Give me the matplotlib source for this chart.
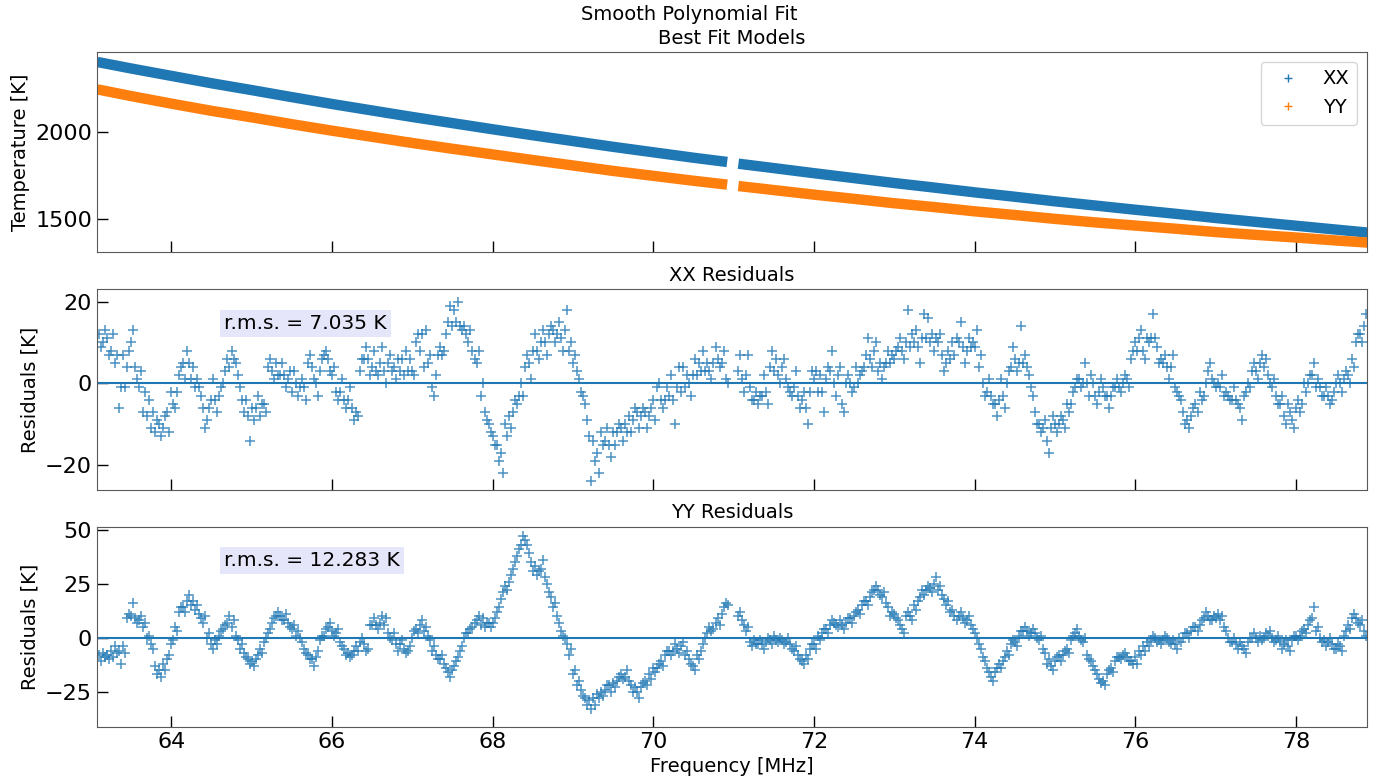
import numpy as np
import matplotlib
matplotlib.use('Agg')
import matplotlib.pyplot as plt
from matplotlib.lines import Line2D

# frequency grids [MHz], split around the flagged gap near 71 MHz
freq_lo = np.round(np.arange(63.10, 70.91, 0.05), 2)
freq_hi = np.round(np.arange(71.05, 78.86, 0.05), 2)
half_step = 0.025   # second reading per channel sits half a step later

# best fit models [K]
model_freq_lo = [63.08, 63.5, 64.0, 64.5, 65.0, 65.5, 66.0, 66.5, 67.0, 67.5,
                 68.0, 68.5, 69.0, 69.5, 70.0, 70.5, 70.92]
xx_model_lo = [2396, 2359, 2317, 2275, 2236, 2196, 2157, 2120, 2083, 2048,
               2013, 1979, 1946, 1913, 1882, 1851, 1827]
yy_model_lo = [2240, 2202, 2159, 2118, 2081, 2042, 2005, 1970, 1935, 1902,
               1870, 1838, 1807, 1776, 1748, 1720, 1698]
model_freq_hi = [71.06, 71.5, 72.0, 72.5, 73.0, 73.5, 74.0, 74.5, 75.0, 75.5,
                 76.0, 76.5, 77.0, 77.5, 78.0, 78.5, 78.89]
xx_model_hi = [1817, 1792, 1763, 1735, 1707, 1681, 1654, 1629, 1603, 1579,
               1555, 1532, 1508, 1486, 1464, 1442, 1425]
yy_model_hi = [1690, 1667, 1641, 1617, 1592, 1570, 1546, 1525, 1503, 1483,
               1465, 1447, 1428, 1412, 1397, 1380, 1368]

# XX residuals [K], two readings per channel (a, b)
xx_res_lo_a = [12, 10, 11, 8, 5, -6, 7, 4, 10, 4,
               -1, -7, -8, -11, -12, -10, -11, -7, -2, -6,
               2, 5, 8, 1, -1, -1, -6, -9, -4, -4,
               -3, 0, 6, 8, 5, -1, -7, -8, -6, -6,
               -8, -5, 4, 3, 5, 2, 2, 1, -2, 0,
               -1, -1, 5, 4, 0, 3, 7, 6, 2, -2,
               -2, -4, -4, -6, -7, 3, 6, 6, 4, 3,
               5, 3, 5, 3, 1, 3, 2, 3, 3, 10,
               8, 4, 5, -1, 2, 9, 8, 15, 14, 15,
               14, 14, 10, 8, 5, -3, -7, -10, -13, -15,
               -17, -10, -8, -7, -5, 0, 4, 5, 8, 8,
               10, 10, 12, 13, 12, 11, 13, 8, 5, 3,
               -2, -5, -13, -14, -17, -12, -14, -15, -12, -12,
               -11, -10, -8, -9, -7, -8, -7, -8, -4, -1,
               -4, -4, -3, -4, -1, -2, -1, 0, 2, 2,
               3, 3, 3, 5, 6, 5, 1]
xx_res_lo_b = [9, 13, 7, 12, 7, -1, -1, 8, 13, 1,
               3, -2, -4, -7, -9, -13, -8, -12, -5, -2,
               4, 1, 5, 4, 1, -3, -11, -6, 1, -7,
               -1, 3, 4, 6, 2, -4, -4, -14, -9, -3,
               -5, -7, 6, 1, 2, 5, -1, 3, 3, -3,
               1, -4, 7, 1, -3, 6, 8, 3, 4, -4,
               1, -6, -1, -9, -8, 6, 9, 2, 8, 2,
               9, 0, 7, 4, 6, 6, 8, 6, 2, 12,
               12, 13, 7, -3, 7, 7, 12, 19, 18, 20,
               13, 12, 13, 6, 8, 0, -9, -12, -15, -19,
               -22, -13, -11, -4, -3, -3, 7, 1, 12, 6,
               13, 7, 14, 10, 15, 8, 18, 10, 7, 1,
               -3, -9, -24, -19, -22, -15, -11, -18, -15, -10,
               -14, -12, -12, -6, -11, -6, -11, -6, -9, 0,
               -6, -1, 2, -10, 4, 4, 2, -3, 6, 5,
               8, 5, 1, 9, 4, 8, 0]
xx_res_hi_a = [3, 1, 2, -1, -4, -5, -3, -2, 4, 3,
               2, 4, 1, -2, -1, -3, -4, -6, -2, 1,
               -2, -2, 1, 3, 0, 2, -5, 0, 0, -1,
               0, 3, 7, 6, 8, 3, 1, 5, 5, 6,
               9, 8, 10, 9, 10, 9, 11, 11, 10, 8,
               10, 7, 5, 6, 7, 10, 9, 8, 9, 9,
               4, 0, -2, -3, -5, -4, -3, 0, 4, 6,
               5, 5, 4, -1, -7, -10, -11, -14, -11, -10,
               -10, -9, -5, -5, -1, 1, 0, 0, 2, -3,
               -2, -1, -3, -3, -1, -1, 0, 1, 6, 10,
               11, 8, 11, 11, 11, 5, 5, 4, 4, -1,
               -3, -7, -9, -8, -5, -2, -3, 3, 1, -1,
               -1, -3, -3, -4, -4, -6, -3, 0, 3, 3,
               5, 4, 2, -1, -3, -5, -8, -5, -9, -6,
               -7, 0, 0, 2, -1, -1, -3, -3, -4, 0,
               0, 1, 2, 6, 10, 12, 14]
xx_res_hi_b = [7, -2, 7, -4, -2, -3, 2, -5, 8, 6,
               0, 6, -1, -3, 3, -6, -2, -10, 3, 3,
               2, -7, 4, 8, -3, 4, -7, 2, -2, 4,
               2, 4, 11, 4, 10, 5, 4, 8, 7, 8,
               11, 6, 18, 12, 13, 5, 17, 16, 12, 11,
               12, 3, 8, 10, 11, 15, 5, 11, 10, 13,
               7, -3, 1, -5, -8, 1, -6, 3, 9, 3,
               14, 7, 2, -3, -10, -12, -9, -17, -8, -12,
               -8, -11, -7, -2, 1, -1, 5, -3, 0, -5,
               1, -3, -6, -1, 1, -2, 2, -1, 8, 8,
               13, 6, 10, 17, 9, 6, 7, 1, 7, -2,
               -4, -10, -11, -6, -7, -4, 0, 5, 0, 0,
               2, -2, -4, -1, -5, -9, -2, -1, 5, 1,
               7, 6, 0, 1, -5, -3, -10, -7, -11, -4,
               -5, -2, 2, 5, 1, -3, -1, -5, -2, 2,
               -2, 3, 0, 4, 12, 10, 17]

# YY residuals [K], two readings per channel (a, b)
yy_res_lo_a = [-8, -7, -8, -6, -4, -6, -4, 9, 10, 9,
               8, 5, 0, -3, -13, -15, -12, -10, -3, 5,
               12, 14, 17, 15, 13, 11, 7, 0, -3, -1,
               1, 4, 7, 5, 1, -5, -7, -10, -11, -10,
               -5, -2, 2, 7, 10, 10, 8, 7, 4, 1,
               0, -5, -8, -10, -9, -1, 1, 5, 3, 2,
               -2, -5, -7, -8, -4, -2, -3, -5, 6, 6,
               7, 6, 2, -1, -3, -3, -5, -6, 0, 4,
               6, 3, 1, -6, -8, -10, -12, -16, -15, -11,
               -6, 0, 2, 5, 8, 6, 5, 7, 7, 12,
               18, 24, 26, 32, 38, 43, 45, 39, 31, 29,
               32, 28, 21, 14, 10, 3, 0, -8, -17, -22,
               -24, -28, -29, -28, -26, -25, -24, -22, -21, -20,
               -17, -18, -20, -25, -25, -23, -20, -17, -14, -14,
               -11, -8, -6, -6, -5, -4, -8, -10, -13, -8,
               -6, 0, 5, 4, 9, 11, 16]
yy_res_lo_b = [-11, -9, -10, -9, -7, -12, -7, 11, 16, 7,
               10, 7, 1, -5, -17, -18, -15, -8, -1, 3,
               14, 12, 20, 17, 15, 9, 10, 2, -5, -3,
               3, 6, 10, 8, -1, -3, -9, -12, -13, -8,
               -7, 0, 4, 9, 12, 8, 11, 5, 6, 3,
               -2, -7, -10, -13, -6, 1, 4, 7, 1, 4,
               -4, -8, -9, -6, -6, 0, -6, 6, 9, 4,
               10, 9, 0, 2, -6, -1, -7, -4, 3, 2,
               8, 5, -1, -4, -10, -8, -14, -18, -13, -9,
               -4, 2, 4, 7, 10, 9, 7, 5, 9, 14,
               21, 22, 29, 35, 41, 47, 43, 35, 33, 31,
               36, 25, 19, 16, 7, 1, -3, -5, -15, -20,
               -27, -31, -33, -31, -28, -27, -22, -25, -23, -18,
               -19, -15, -22, -23, -28, -21, -22, -19, -16, -12,
               -13, -6, -8, -3, -7, -2, -6, -12, -15, -10,
               -3, 2, 3, 7, 6, 14, 15]
yy_res_hi_a = [10, 8, 3, -2, -1, -3, -3, -2, -1, 1,
               -2, -1, -2, -3, -6, -8, -11, -8, -5, -3,
               1, 2, 4, 6, 7, 5, 6, 7, 9, 10,
               13, 15, 17, 19, 22, 22, 19, 16, 10, 11,
               8, 4, 10, 10, 15, 17, 22, 22, 23, 25,
               22, 20, 15, 12, 10, 10, 9, 8, 6, 2,
               -3, -9, -14, -18, -16, -12, -11, -6, -3, -2,
               1, 3, 3, 2, 2, -1, -5, -12, -13, -11,
               -8, -8, -5, -1, 2, 1, -2, -8, -11, -15,
               -19, -20, -17, -14, -11, -9, -8, -9, -11, -9,
               -6, -4, -2, -1, 0, -1, -1, 0, -3, -3,
               0, 0, 2, 3, 5, 6, 9, 10, 8, 9,
               8, 5, 0, -2, -3, -2, -5, -2, 0, 0,
               1, 0, 1, 0, -1, -2, -3, -4, -1, 1,
               1, 4, 6, 9, 3, 0, -1, -2, -3, -5,
               -4, 1, 6, 9, 9, 6, 3]
yy_res_hi_b = [12, 6, 5, -4, -3, -1, -5, 0, -3, -1,
               0, -3, 0, -5, -4, -10, -12, -10, -3, -5,
               -1, 4, 2, 8, 6, 8, 4, 9, 7, 12,
               11, 17, 15, 21, 24, 20, 21, 14, 12, 9,
               6, 2, 12, 8, 13, 19, 20, 24, 21, 28,
               24, 18, 17, 13, 8, 12, 7, 10, 4, 0,
               -5, -11, -16, -20, -14, -14, -9, -8, -1, -4,
               3, 5, 1, 4, 0, 1, -7, -10, -15, -9,
               -11, -6, -7, 1, 4, -1, 0, -10, -13, -17,
               -21, -22, -15, -16, -9, -10, -7, -11, -12, -12,
               -8, -6, -4, 1, -2, -3, 1, -2, -1, -5,
               -2, 2, 0, 5, 3, 8, 12, 8, 10, 11,
               10, 3, -2, 0, -5, -4, -7, 0, 2, -2,
               -1, 2, 3, -2, 1, -5, -1, -6, 1, -1,
               3, 2, 8, 14, 5, -2, -4, 0, -5, -3,
               -6, 3, 4, 11, 7, 8, 1]

rms_xx = 7.035
rms_yy = 12.283

for arr in [xx_res_lo_a, xx_res_lo_b, yy_res_lo_a, yy_res_lo_b]:
    assert len(arr) == len(freq_lo), len(arr)
for arr in [xx_res_hi_a, xx_res_hi_b, yy_res_hi_a, yy_res_hi_b]:
    assert len(arr) == len(freq_hi), len(arr)

#######

blue = '#1f77b4'
orange = '#ff7f0e'

fig, axes = plt.subplots(3, 1, figsize=(13.79, 7.79), dpi=100, sharex=True)
fig.subplots_adjust(left=0.0703, right=0.9913, top=0.9333, bottom=0.0668, hspace=0.185)
fig.suptitle('Smooth Polynomial Fit', fontsize=14, y=0.993)

ax = axes[0]
for f, t in [(model_freq_lo, xx_model_lo), (model_freq_hi, xx_model_hi)]:
    ax.plot(f, t, '-', color=blue, lw=7.5, solid_capstyle='butt')
for f, t in [(model_freq_lo, yy_model_lo), (model_freq_hi, yy_model_hi)]:
    ax.plot(f, t, '-', color=orange, lw=7.5, solid_capstyle='butt')
ax.set_title('Best Fit Models', fontsize=14)
ax.set_ylabel('Temperature [K]', fontsize=14)
ax.set_ylim(1313, 2453)
ax.set_yticks([1500, 2000])
handles = [Line2D([], [], ls='none', marker='+', color=blue, ms=6),
           Line2D([], [], ls='none', marker='+', color=orange, ms=6)]
ax.legend(handles, ['XX', 'YY'], loc='upper right', fontsize=14)

panels = [(axes[1], (xx_res_lo_a, xx_res_lo_b), (xx_res_hi_a, xx_res_hi_b),
           'XX Residuals', rms_xx, (-26.0, 23.0), [-20, 0, 20]),
          (axes[2], (yy_res_lo_a, yy_res_lo_b), (yy_res_hi_a, yy_res_hi_b),
           'YY Residuals', rms_yy, (-41.3, 51.4), [-25, 0, 25, 50])]
for ax, lo, hi, title, rms, ylim, yt in panels:
    for k, off in enumerate([0.0, half_step]):
        ax.plot(freq_lo + off, lo[k], '+', color=blue, ms=7, mew=1.1, alpha=0.8)
        ax.plot(freq_hi + off, hi[k], '+', color=blue, ms=7, mew=1.1, alpha=0.8)
    ax.axhline(0, color=blue, lw=1.5)
    ax.set_title(title, fontsize=14)
    ax.set_ylabel('Residuals [K]', fontsize=14)
    ax.set_ylim(*ylim)
    ax.set_yticks(yt)
    ax.text(0.1, 0.83, 'r.m.s. = {:.3f} K'.format(rms), transform=ax.transAxes,
            fontsize=14.5, va='center',
            bbox=dict(boxstyle='square,pad=0.2', facecolor='lavender', edgecolor='none'))

axes[2].set_xlabel('Frequency [MHz]', fontsize=14)
axes[2].set_xlim(63.075, 78.885)
axes[2].set_xticks([64, 66, 68, 70, 72, 74, 76, 78])

for ax in axes:
    ax.tick_params(direction='in', length=8, width=1, labelsize=16)
    for s in ax.spines.values():
        s.set_color('0.35')

fig.savefig('out.png', dpi=100)
